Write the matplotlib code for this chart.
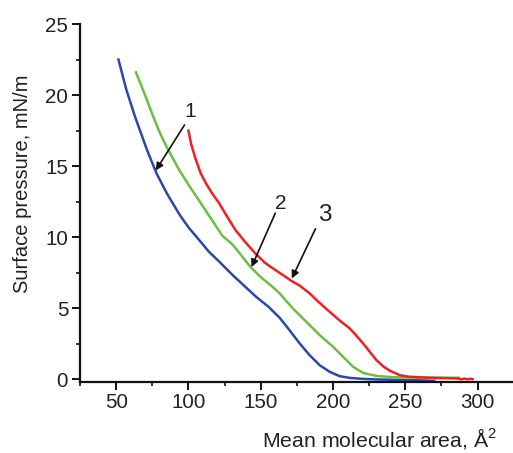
import numpy as np
import matplotlib.pyplot as plt
from matplotlib.ticker import MultipleLocator

plt.rcParams['font.family'] = ['Liberation Sans', 'DejaVu Sans']
plt.rcParams['mathtext.fontset'] = 'custom'
plt.rcParams['mathtext.rm'] = 'Liberation Sans'

# pi-A isotherms, three monolayers
area1 = [51.6, 57, 63, 71.5, 77.9, 85, 93.8, 100, 107.5, 114, 121.2, 130, 139.5,
         147, 155.5, 163, 169.9, 176.9, 183.8, 190.8, 197.7, 204.6, 211.6,
         220.8, 231, 245, 260, 270]
pres1 = [22.5, 20.4, 18.5, 16.1, 14.5, 13.1, 11.6, 10.7, 9.8, 9.0, 8.3, 7.4, 6.5,
         5.8, 5.1, 4.35, 3.47, 2.54, 1.71, 1.0, 0.54, 0.23, 0.11,
         0.04, 0.0, -0.03, -0.06, -0.1]

area2 = [63.7, 70, 75.6, 80, 84.7, 93.8, 100, 105.3, 114.4, 123.5, 127, 130.4,
         136, 143, 150, 157.8, 163, 172.2, 181.5, 190.8, 200, 206.9, 213.9,
         220.8, 230, 241.5, 250, 262, 275, 287]
pres2 = [21.6, 20.0, 18.5, 17.4, 16.4, 14.7, 13.7, 12.9, 11.5, 10.1, 9.8, 9.5,
         8.8, 7.9, 7.2, 6.55, 6.06, 5.0, 4.06, 3.12, 2.3, 1.6, 0.89,
         0.46, 0.25, 0.16, 0.14, 0.13, 0.12, 0.12]

area3 = [100, 102, 105.3, 108.5, 112.1, 116, 121.2, 126.5, 132.6, 139, 146.4, 153,
         160.1, 166, 171, 177, 183.8, 190, 197.7, 204, 211.6, 216, 220.8, 225,
         230, 235, 239.4, 246.3, 252, 260, 270, 280, 287, 289, 291, 293, 295, 296.5]
pres3 = [17.5, 16.5, 15.4, 14.5, 13.8, 13.15, 12.4, 11.5, 10.5, 9.7, 8.85, 8.2,
         7.7, 7.3, 6.95, 6.6, 6.06, 5.45, 4.76, 4.2, 3.59, 3.1, 2.54, 2.0,
         1.36, 0.9, 0.61, 0.3, 0.2, 0.15, 0.11, 0.09, 0.06, 0.01, 0.06, 0.01, 0.05, 0.02]

# curve labels: text position, arrow tail, arrow tip
labels = ['1', '2', '3']
label_xy = [(101.2, 18.85), (164.2, 12.4), (194.3, 11.6)]
tail_xy = [(97.3, 17.9), (160.1, 11.7), (187.9, 10.6)]
tip_xy = [(77.4, 14.7), (143.6, 7.9), (171.5, 7.1)]
label_size = [15, 15, 17.5]

fig = plt.figure(figsize=(5.13, 4.53), dpi=100)
ax = fig.add_axes([80/513, 1 - 382.3/453, 1 - 80/513, (382.3 - 24)/453])

ax.plot(area1, pres1, color='#2b47a8', lw=1.8)
ax.plot(area2, pres2, color='#6abf45', lw=1.8)
ax.plot(area3, pres3, color='#ee2026', lw=1.8)

for lab, xy, t0, t1, fs in zip(labels, label_xy, tail_xy, tip_xy, label_size):
    ax.text(*xy, lab, fontsize=fs, ha='center', va='center', color='#222222')
    ax.annotate('', xy=t1, xytext=t0,
                arrowprops=dict(arrowstyle='-|>', color='#111111', lw=1.2,
                                mutation_scale=11, shrinkA=0, shrinkB=0))

ax.set_xlim(25, 324.5)
ax.set_ylim(-0.2, 25)
ax.xaxis.set_major_locator(MultipleLocator(50))
ax.xaxis.set_minor_locator(MultipleLocator(25))
ax.yaxis.set_major_locator(MultipleLocator(5))
ax.yaxis.set_minor_locator(MultipleLocator(2.5))

for side in ['top', 'right']:
    ax.spines[side].set_visible(False)
for side in ['left', 'bottom']:
    ax.spines[side].set_linewidth(1.6)
    ax.spines[side].set_color('#111111')

ax.tick_params(which='major', direction='out', length=6, width=1.4,
               labelsize=14.8, labelcolor='#222222', color='#111111')
ax.tick_params(which='minor', direction='out', length=3, width=1.2, color='#111111')
ax.tick_params(axis='x', which='major', pad=2)
ax.tick_params(axis='y', which='major', pad=2.5)

ax.set_ylabel('Surface pressure, mN/m', fontsize=14.5, color='#222222')
ax.yaxis.label.set_va('center')
ax.yaxis.set_label_coords(-0.133, 0.553)

# x label sits low, right-aligned under the plot
ax.set_xlabel(r'Mean molecular area, Å$^{\mathregular{2}}$', fontsize=15.3,
              color='#222222')
ax.xaxis.label.set_ha('right')
ax.xaxis.label.set_va('baseline')
ax.xaxis.set_label_coords(0.963, -0.178)

fig.savefig('out.png', dpi=100)
